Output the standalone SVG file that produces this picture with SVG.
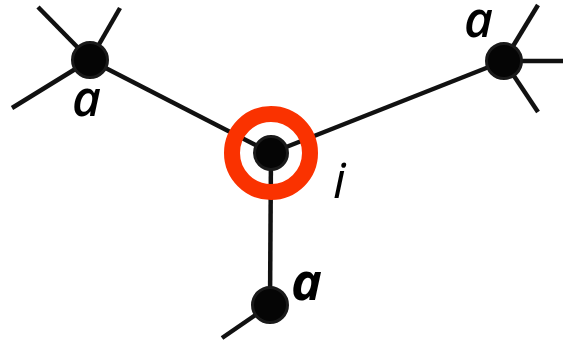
<svg xmlns="http://www.w3.org/2000/svg" width="563" height="345" viewBox="0 0 563 345">
<style>
.e{stroke:#111;stroke-width:4.5;stroke-linecap:butt;fill:none}
.n{fill:#050505;stroke:#1a1a1a;stroke-width:3}
.t{font-family:"Open Sans","Noto Sans",sans-serif;font-style:italic;font-size:50px;font-weight:600;fill:#000}
</style>
<rect width="563" height="345" fill="#fff"/>
<g id="connectors">
<line class="e" x1="90" y1="60" x2="38" y2="7"/>
<line class="e" x1="90" y1="60" x2="120" y2="8"/>
<line class="e" x1="90" y1="60" x2="12" y2="108"/>
<line class="e" x1="90" y1="60" x2="271" y2="153"/>
<line class="e" x1="504" y1="61" x2="271" y2="153"/>
<line class="e" x1="504" y1="61" x2="538" y2="5"/>
<line class="e" x1="504" y1="61" x2="563" y2="61"/>
<line class="e" x1="504" y1="61" x2="538" y2="112"/>
<line class="e" x1="271" y1="153" x2="270" y2="305"/>
<line class="e" x1="270" y1="305" x2="222" y2="338"/>
</g>
<g id="center">
<circle cx="271" cy="153" r="39" fill="none" stroke="#fa3200" stroke-width="16"/>
<circle class="n" cx="271" cy="153" r="16.5"/>
<text class="t" x="333" y="198" style="font-weight:400">i</text>
</g>
<g id="node-tl">
<circle class="n" cx="90" cy="60" r="17.5"/>
<text class="t" x="72" y="116">a</text>
</g>
<g id="node-tr">
<circle class="n" cx="504" cy="61" r="17.5"/>
<text class="t" x="464" y="37">a</text>
</g>
<g id="node-b">
<circle class="n" cx="270" cy="305" r="17.5"/>
<text class="t" x="291" y="300" style="font-weight:700;font-size:52px">a</text>
</g>
</svg>
